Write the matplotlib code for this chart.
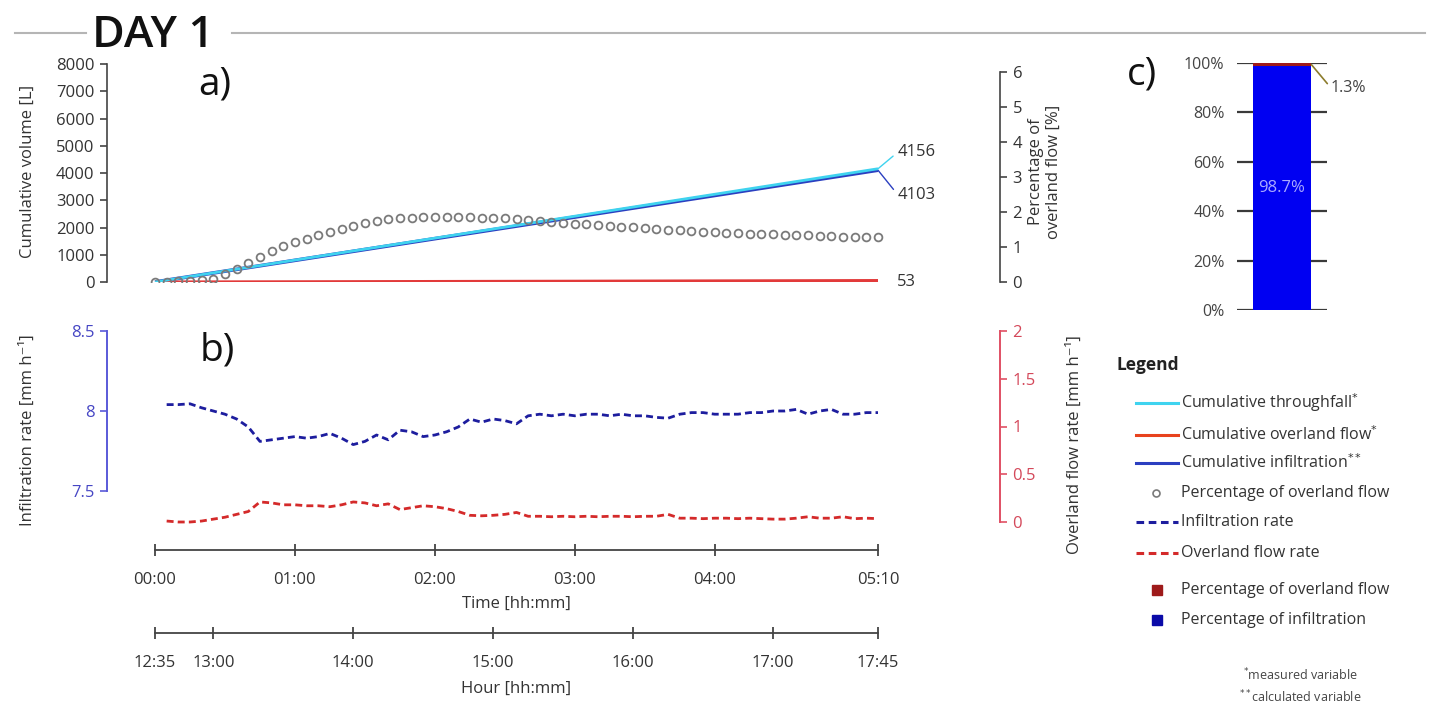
import matplotlib
matplotlib.use("Agg")
import matplotlib.pyplot as plt
from matplotlib.lines import Line2D
from matplotlib.patches import Rectangle

plt.rcParams['font.family'] = ['Open Sans', 'DejaVu Sans']
plt.rcParams['mathtext.fontset'] = 'dejavusans'

W, H = 1438, 704

# ---------------- data ----------------
rate_minutes = list(range(5, 315, 5))
infiltration_rate = [8.04, 8.04, 8.045, 8.02, 8.0, 7.98, 7.95, 7.90, 7.81, 7.82,
                     7.83, 7.84, 7.83, 7.84, 7.86, 7.83, 7.79, 7.81, 7.85, 7.82,
                     7.88, 7.87, 7.84, 7.85, 7.87, 7.90, 7.95, 7.93, 7.95, 7.94,
                     7.92, 7.97, 7.98, 7.97, 7.98, 7.97, 7.98, 7.98, 7.97, 7.98,
                     7.97, 7.97, 7.96, 7.955, 7.98, 7.99, 7.99, 7.98, 7.98, 7.98,
                     7.99, 7.99, 8.0, 8.0, 8.01, 7.98, 8.0, 8.01, 7.98, 7.98,
                     7.99, 7.99]
overland_rate = [0.01, 0.0, 0.0, 0.01, 0.03, 0.05, 0.08, 0.11, 0.21, 0.2,
                 0.18, 0.18, 0.17, 0.17, 0.16, 0.18, 0.21, 0.2, 0.17, 0.19,
                 0.13, 0.15, 0.17, 0.16, 0.14, 0.11, 0.07, 0.065, 0.07, 0.08,
                 0.1, 0.06, 0.06, 0.055, 0.06, 0.055, 0.06, 0.055, 0.06, 0.06,
                 0.055, 0.06, 0.06, 0.08, 0.04, 0.04, 0.035, 0.04, 0.04, 0.035,
                 0.04, 0.035, 0.03, 0.03, 0.04, 0.055, 0.04, 0.04, 0.055, 0.035,
                 0.04, 0.035]
pct_minutes = list(range(0, 315, 5))
pct_overland = [0.0, 0.0, 0.02, 0.03, 0.05, 0.1, 0.22, 0.38, 0.55, 0.72,
                0.88, 1.02, 1.13, 1.23, 1.33, 1.42, 1.52, 1.6, 1.68, 1.74,
                1.79, 1.82, 1.84, 1.85, 1.86, 1.86, 1.86, 1.85, 1.84, 1.82,
                1.82, 1.79, 1.76, 1.74, 1.72, 1.70, 1.67, 1.65, 1.62, 1.60,
                1.58, 1.56, 1.54, 1.52, 1.50, 1.48, 1.46, 1.44, 1.43, 1.41,
                1.40, 1.38, 1.37, 1.36, 1.35, 1.34, 1.33, 1.32, 1.31, 1.30,
                1.29, 1.29, 1.28]
cum_minutes = [0, 60, 120, 180, 240, 310]
cum_throughfall = [0, 805, 1610, 2415, 3220, 4156]
cum_infiltration = [0, 795, 1590, 2382, 3175, 4103]
cum_overland = [0, 8, 18, 28, 40, 53]

time_ticks = [0, 60, 120, 180, 240, 310]
time_labels = ['00:00', '01:00', '02:00', '03:00', '04:00', '05:10']
hour_ticks = [0, 25, 85, 145, 205, 265, 310]
hour_labels = ['12:35', '13:00', '14:00', '15:00', '16:00', '17:00', '17:45']

share_infiltration = 98.7
share_overland = 1.3

# ---------------- colours ----------------
C_CYAN = '#3fd3ef'
C_BLUE = '#2b3fc0'
C_RED = '#e23a3a'
C_GRAY = '#7a7a7a'
C_IRATE = '#1d1d9e'
C_ORATE = '#d42a2a'
C_AX = '#444444'
C_TXT = '#333333'
C_BAXIS = '#5a5ad8'
C_RAXIS = '#e05064'
C_BAR_I = '#0000f2'
C_BAR_O = '#9e1a1a'

fig = plt.figure(figsize=(W / 100, H / 100), dpi=100)


def rect(l, t, r, b):
    return [l / W, 1 - b / H, (r - l) / W, (b - t) / H]


def fp(x, y):
    return (x, H - y)


PXMIN = (878 - 155) / 310.0
XMIN = -(155 - 107) / PXMIN
XMAX = 310 + (1000 - 878) / PXMIN
FS = 12

# ---------------- title ----------------
fig.add_artist(Line2D([15 / W, 86 / W], [1 - 33 / H] * 2, color='#b5b5b5', lw=1.5))
fig.add_artist(Line2D([232 / W, 1425 / W], [1 - 33 / H] * 2, color='#b5b5b5', lw=1.5))
fig.text(92 / W, 1 - 47 / H, 'DAY 1', fontsize=32, fontweight='semibold', color='#111111',
         va='baseline', ha='left')

# ---------------- panel a ----------------
axA = fig.add_axes(rect(107, 64, 1000, 282))
axA.set_facecolor('none')
axA.set_xlim(XMIN, XMAX)
axA.set_ylim(0, 8000)
for s in ['top', 'bottom', 'right']:
    axA.spines[s].set_visible(False)
axA.spines['left'].set_bounds(0, 8000)
axA.spines['left'].set_color(C_AX)
axA.spines['left'].set_linewidth(1.2)
axA.set_xticks([])
axA.set_yticks(range(0, 8001, 1000))
axA.tick_params(axis='y', direction='out', length=5, width=1.2, color=C_AX,
                labelsize=FS, labelcolor=C_TXT, pad=4)

axA.plot(cum_minutes, cum_infiltration, color=C_BLUE, lw=2.6, zorder=3, solid_capstyle='butt')
axA.plot(cum_minutes, cum_throughfall, color=C_CYAN, lw=2.0, zorder=4, solid_capstyle='butt')
axA.plot(cum_minutes, cum_overland, color=C_RED, lw=2.2, zorder=3, solid_capstyle='butt')

axA2 = axA.twinx()
axA2.set_facecolor('none')
axA2.set_xlim(XMIN, XMAX)
axA2.set_ylim(0, 6 * 218 / 210)
for s in ['top', 'bottom', 'left']:
    axA2.spines[s].set_visible(False)
axA2.spines['right'].set_bounds(0, 6)
axA2.spines['right'].set_color(C_AX)
axA2.spines['right'].set_linewidth(1.2)
axA2.set_yticks(range(0, 7))
axA2.tick_params(axis='y', direction='out', length=5, width=1.2, color=C_AX,
                 labelsize=FS, labelcolor=C_TXT, pad=4)
axA2.plot(pct_minutes, pct_overland, 'o', mfc='none', mec=C_GRAY, ms=5.6, mew=1.3, zorder=5)

axA.annotate('4156', xy=(cum_minutes[-1], cum_throughfall[-1]), xycoords='data',
             xytext=fp(898, 152), textcoords='figure pixels', fontsize=FS, color=C_TXT,
             ha='left', va='center',
             arrowprops=dict(arrowstyle='-', color=C_CYAN, lw=1, shrinkA=2, shrinkB=0,
                             relpos=(0, 0.5)))
axA.annotate('4103', xy=(cum_minutes[-1], cum_infiltration[-1]), xycoords='data',
             xytext=fp(898, 195), textcoords='figure pixels', fontsize=FS, color=C_TXT,
             ha='left', va='center',
             arrowprops=dict(arrowstyle='-', color=C_BLUE, lw=1, shrinkA=2, shrinkB=0,
                             relpos=(0, 0.5)))
axA.annotate('53', xy=(cum_minutes[-1], cum_overland[-1]), xycoords='data',
             xytext=fp(897, 282), textcoords='figure pixels', fontsize=FS, color=C_TXT,
             ha='left', va='center')

fig.text(28 / W, 1 - 171 / H, 'Cumulative volume [L]', rotation=90, fontsize=FS,
         color=C_TXT, ha='center', va='center')
fig.text(1045 / W, 1 - 172 / H, 'Percentage of\noverland flow [%]', rotation=90, fontsize=FS,
         color=C_TXT, ha='center', va='center', multialignment='center', linespacing=1.1)
fig.text(198 / W, 1 - 85 / H, 'a)', fontsize=28, color='#111111', ha='left', va='center')

# ---------------- panel b ----------------
axB = fig.add_axes(rect(107, 325, 1000, 535))
axB.set_facecolor('none')
axB.set_xlim(XMIN, XMAX)
axB.set_ylim(7.5 - (535 - 491) / 160.0, 8.5 + (331 - 325) / 160.0)
for s in ['top', 'bottom', 'right']:
    axB.spines[s].set_visible(False)
axB.spines['left'].set_bounds(7.5, 8.5)
axB.spines['left'].set_color(C_BAXIS)
axB.spines['left'].set_linewidth(1.4)
axB.set_xticks([])
axB.set_yticks([7.5, 8.0, 8.5])
axB.set_yticklabels(['7.5', '8', '8.5'])
axB.tick_params(axis='y', direction='out', length=5, width=1.2, color=C_BAXIS,
                labelsize=FS, labelcolor='#4646c4', pad=4)
axB.plot(rate_minutes, infiltration_rate, color=C_IRATE, lw=2.0, ls=(0, (2.5, 1.5)))

axB2 = axB.twinx()
axB2.set_facecolor('none')
axB2.set_xlim(XMIN, XMAX)
axB2.set_ylim(-(535 - 522) / 95.5, 2 + (331 - 325) / 95.5)
for s in ['top', 'bottom', 'left']:
    axB2.spines[s].set_visible(False)
axB2.spines['right'].set_bounds(0, 2)
axB2.spines['right'].set_color(C_RAXIS)
axB2.spines['right'].set_linewidth(1.4)
axB2.set_yticks([0, 0.5, 1, 1.5, 2])
axB2.set_yticklabels(['0', '0.5', '1', '1.5', '2'])
axB2.tick_params(axis='y', direction='out', length=5, width=1.2, color=C_RAXIS,
                 labelsize=FS, labelcolor='#d4485a', pad=4)
axB2.plot(rate_minutes, overland_rate, color=C_ORATE, lw=2.0, ls=(0, (2.5, 1.5)))

fig.text(28 / W, 1 - 430 / H, 'Infiltration rate [mm h⁻¹]', rotation=90, fontsize=FS,
         color=C_TXT, ha='center', va='center')
fig.text(1075 / W, 1 - 445 / H, 'Overland flow rate [mm h⁻¹]', rotation=90, fontsize=FS,
         color=C_TXT, ha='center', va='center')
fig.text(200 / W, 1 - 351 / H, 'b)', fontsize=28, color='#111111', ha='left', va='center')

# ---------------- time axes ----------------
def time_axis(y_line, ticks, labels, title, y_title):
    ax = fig.add_axes(rect(107, y_line - 10, 1000, y_line))
    ax.set_facecolor('none')
    ax.set_xlim(XMIN, XMAX)
    ax.set_ylim(0, 1)
    for s in ['top', 'left', 'right']:
        ax.spines[s].set_visible(False)
    ax.spines['bottom'].set_bounds(ticks[0], ticks[-1])
    ax.spines['bottom'].set_color(C_AX)
    ax.spines['bottom'].set_linewidth(1.3)
    ax.set_yticks([])
    ax.set_xticks(ticks)
    ax.set_xticklabels(labels)
    ax.tick_params(axis='x', direction='inout', length=8, width=1.3, color=C_AX,
                   labelsize=FS, labelcolor=C_TXT, pad=12)
    fig.text(516 / W, 1 - y_title / H, title, fontsize=FS, color=C_TXT,
             ha='center', va='center')
    return ax

time_axis(550, time_ticks, time_labels, 'Time [hh:mm]', 604)
time_axis(633, hour_ticks, hour_labels, 'Hour [hh:mm]', 689)

# ---------------- panel c ----------------
axC = fig.add_axes(rect(1237, 63, 1327, 310))
axC.set_facecolor('none')
axC.set_xlim(-0.75, 0.75)
axC.set_ylim(0, 100)
for s in axC.spines.values():
    s.set_visible(False)
axC.set_xticks([])
axC.set_yticks(range(0, 101, 20))
axC.set_yticklabels(['0%', '20%', '40%', '60%', '80%', '100%'])
axC.tick_params(axis='y', length=0, labelsize=11.5, labelcolor='#444444', pad=9)
axC.grid(axis='y', color='#3a3a3a', lw=1.6)
axC.set_axisbelow(True)
axC.bar([0], [share_infiltration], width=0.98, color=C_BAR_I, zorder=2)
axC.bar([0], [share_overland], bottom=[share_infiltration], width=0.98, color=C_BAR_O, zorder=2)
axC.text(0, share_infiltration / 2, '98.7%', color='#a9a9ff', fontsize=12,
         ha='center', va='center', zorder=3)
axC.annotate('1.3%', xy=(0.49, share_infiltration + share_overland / 2), xycoords='data',
             xytext=fp(1331, 88), textcoords='figure pixels', fontsize=11.5, color='#444444',
             ha='left', va='center',
             arrowprops=dict(arrowstyle='-', color='#8c7c2c', lw=1.2, shrinkA=1, shrinkB=0,
                             relpos=(0, 0.5)))
fig.text(1127 / W, 1 - 74 / H, 'c)', fontsize=28, color='#111111', ha='left', va='center')

# ---------------- legend ----------------
fig.text(1117 / W, 1 - 365 / H, 'Legend', fontsize=12.5, fontweight='bold',
         color='#222222', ha='left', va='center')
entries = [
    ('line', C_CYAN, '-', r'Cumulative throughfall$^{*}$', 403),
    ('line', '#e8421e', '-', r'Cumulative overland flow$^{*}$', 435),
    ('line', C_BLUE, '-', r'Cumulative infiltration$^{**}$', 463),
    ('circle', C_GRAY, None, 'Percentage of overland flow', 493),
    ('line', C_IRATE, (0, (2.5, 1.5)), 'Infiltration rate', 522),
    ('line', C_ORATE, (0, (2.5, 1.5)), 'Overland flow rate', 553),
    ('square', C_BAR_O, None, 'Percentage of overland flow', 590),
    ('square', '#0a0aa8', None, 'Percentage of infiltration', 620),
]
for kind, col, ls, label, y in entries:
    yf = 1 - y / H
    if kind == 'line':
        fig.add_artist(Line2D([1136 / W, 1178 / W], [yf, yf], color=col, lw=2.2, ls=ls))
    elif kind == 'circle':
        fig.add_artist(Line2D([1156 / W], [yf], marker='o', mfc='none', mec=col,
                              ms=5, mew=1.2, ls='none'))
    else:
        fig.add_artist(Rectangle(((1152) / W, yf - 5 / H), 10 / W, 10 / H,
                                 transform=fig.transFigure, color=col))
    fig.text(1181 / W, yf, label, fontsize=11.5, color=C_TXT, ha='left', va='center')

fig.text(1300 / W, 1 - 675 / H, r'$^{*}$measured variable', fontsize=9, color='#444444',
         ha='center', va='center')
fig.text(1300 / W, 1 - 697 / H, r'$^{**}$calculated variable', fontsize=9, color='#444444',
         ha='center', va='center')

fig.savefig('out.png', dpi=100)
